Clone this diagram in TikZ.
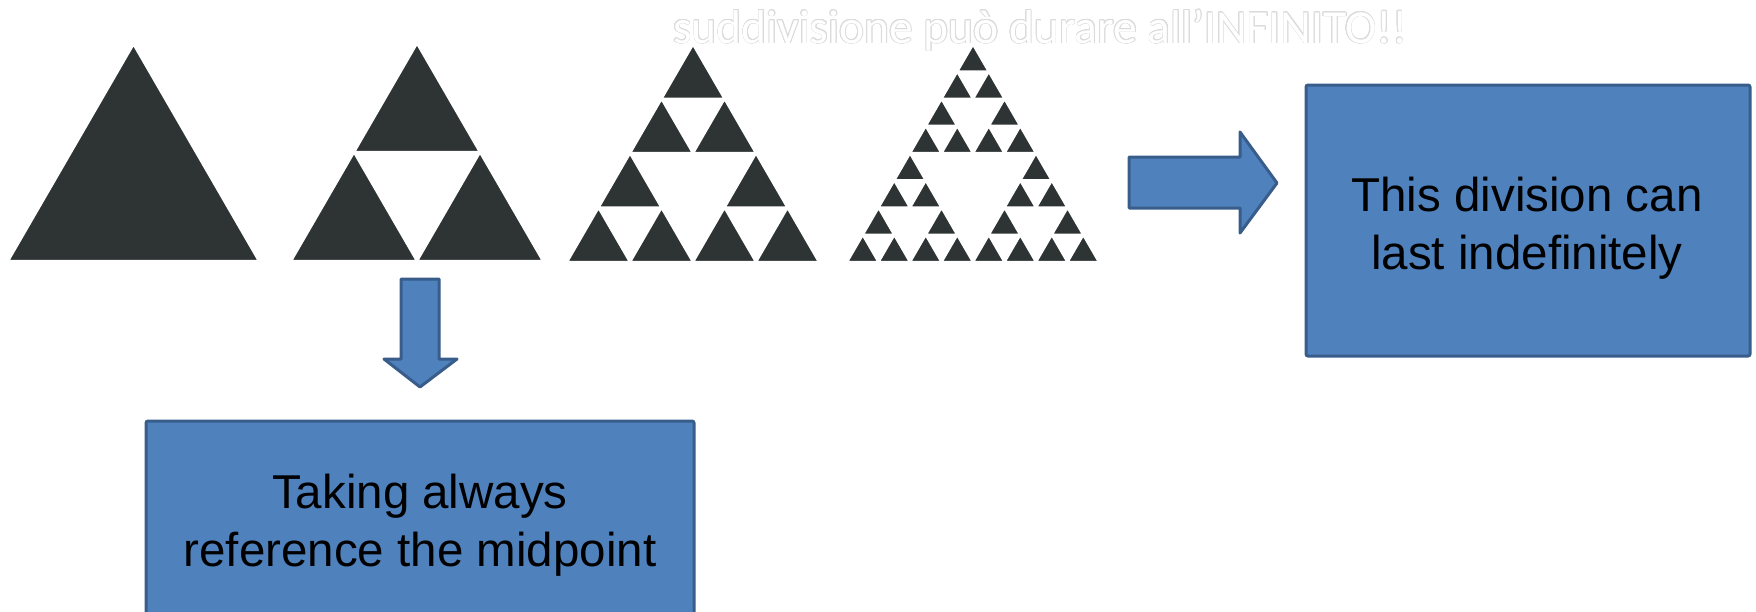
\documentclass[tikz,border=0pt]{standalone}
\usepackage{fontspec}
\setmainfont{Liberation Sans}
\newfontfamily\boxfont{Liberation Sans}
\newfontfamily\titlefont{Carlito}
\usepackage{contour}
\contourlength{0.35pt}
\definecolor{boxfill}{HTML}{4F81BD}
\definecolor{boxline}{HTML}{385D8A}
\definecolor{tridark}{RGB}{46,52,52}
\tikzset{
  tri/.style={fill=tridark, draw=white, line width=1.2pt},
  blockbox/.style={draw=boxline, fill=boxfill, line width=1.5pt, rounded corners=1pt, inner sep=0pt},
  blockarrow/.style={draw=boxline, fill=boxfill, line width=1.5pt, line join=round},
  boxtext/.style={font=\boxfont\fontsize{23.75}{28}\selectfont, text=black, anchor=base, inner sep=0pt},
  titletext/.style={font=\titlefont\fontsize{23.75}{28}\selectfont, anchor=base, inner sep=0pt},
}
\newcommand\sierp[4]{% level, x-left, y-base, width
  \ifnum#1=0
    \path[tri] (#2,#3) -- ++(#4,0) -- ++({-#4/2},{-#4*0.864}) -- cycle;
  \else
    \begingroup
    \pgfmathsetmacro\sx{#2}%
    \pgfmathsetmacro\sy{#3}%
    \pgfmathsetmacro\sw{#4}%
    \pgfmathtruncatemacro\lv{#1-1}%
    \pgfmathsetmacro\hw{\sw/2}%
    \pgfmathsetmacro\xr{\sx+\hw}%
    \pgfmathsetmacro\xm{\sx+\hw/2}%
    \pgfmathsetmacro\ym{\sy-\hw*0.864}%
    \edef\tmp{\noexpand\sierp{\lv}{\sx}{\sy}{\hw}\noexpand\sierp{\lv}{\xr}{\sy}{\hw}\noexpand\sierp{\lv}{\xm}{\ym}{\hw}}%
    \tmp
    \endgroup
  \fi}
\begin{document}
\begin{tikzpicture}[x=0.5pt,y=-0.5pt]
\useasboundingbox (0,0) rectangle (1756,611);
\clip (0,0) rectangle (1756,611);
% triangles
\sierp{0}{8}{261}{251}
\sierp{1}{291}{261}{252}
\sierp{2}{567}{262}{252}
\sierp{3}{847}{262}{252}
% title
\node[titletext] (title) at (1040.5,43) {\color{white}\contour{gray!28}{suddivisione può durare all’INFINITO!!}};
% right arrow and box
\path[blockarrow] (1129,157) -- (1240,157) -- (1240,132) -- (1277,183) -- (1240,233) -- (1240,208) -- (1129,208) -- cycle;
\node[blockbox, minimum width=222pt, minimum height=135.5pt] (rbox) at (1528,220.5) {};
\node[boxtext] (rt1) at (1527,211) {This division can};
\node[boxtext] (rt2) at (1527,269) {last indefinitely};
% down arrow and box
\path[blockarrow] (401,279) -- (439,279) -- (439,359) -- (457,359) -- (420,387) -- (384,359) -- (401,359) -- cycle;
\node[blockbox, minimum width=274pt, minimum height=109.5pt] (bbox) at (420,530.5) {};
\node[boxtext] (bt1) at (420,508) {Taking always};
\node[boxtext] (bt2) at (420,566) {reference the midpoint};
\end{tikzpicture}
\end{document}
